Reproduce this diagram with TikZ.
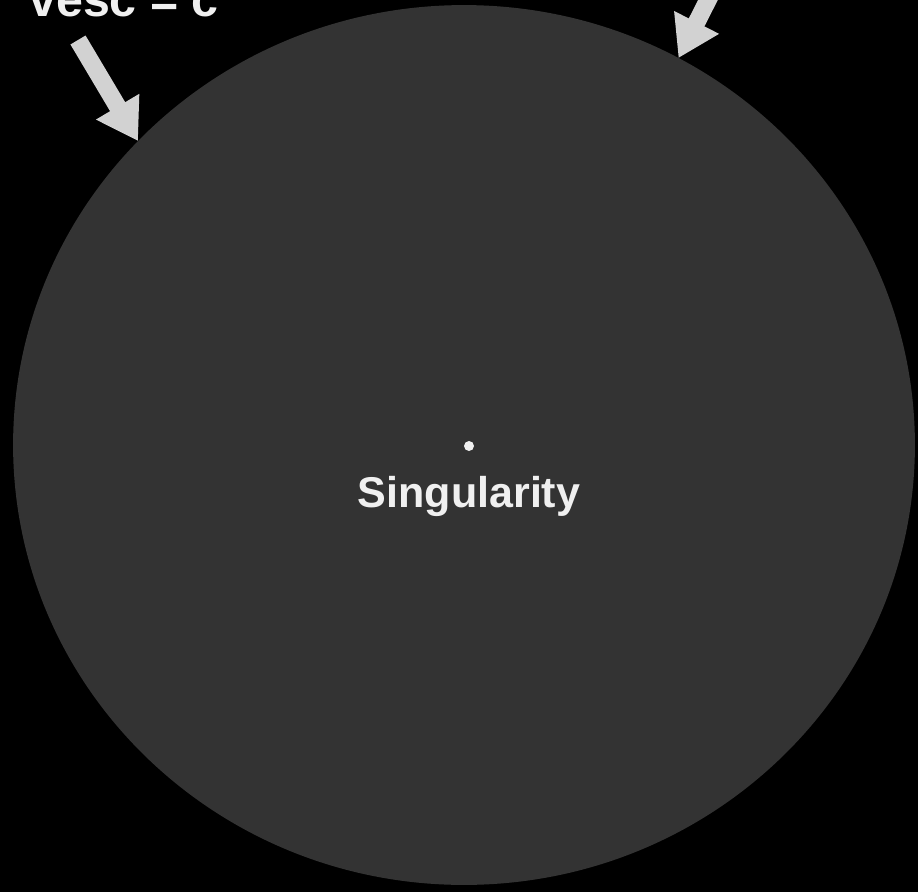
\documentclass[tikz,border=0pt]{standalone}
\usepackage{fontspec}
\setmainfont{Liberation Sans}
\usetikzlibrary{shapes.geometric, arrows.meta, positioning}
\definecolor{holegray}{HTML}{333333}
\definecolor{pointergray}{HTML}{D2D2D2}
\definecolor{labelwhite}{HTML}{F0F0F0}
\begin{document}
\begin{tikzpicture}[x=0.02cm, y=-0.02cm,
    pointer/.style={draw=pointergray, line width=10pt, -{Triangle[length=0.8cm, width=0.95cm]}},
    caption/.style={text=labelwhite, inner sep=0pt, font=\bfseries}]
    % Frame: the picture is cut off at the top
    \clip (0, 0) rectangle (918, 892);
    \fill[black] (0, 0) rectangle (918, 892);

    % Event horizon
    \node[ellipse, fill=holegray, minimum width=18.04cm, minimum height=17.6cm, inner sep=0pt, outer sep=0pt] (horizon) at (464, 445) {};

    % Singularity at the centre
    \node[circle, fill=labelwhite, inner sep=0pt, minimum size=0.2cm] (singularity) at (469, 446) {};
    \node[caption, font=\bfseries\fontsize{24.5pt}{29pt}\selectfont, below=0.5cm of singularity] (singlabel) {Singularity};

    % Escape velocity label and arrows onto the horizon
    \node[caption, font=\bfseries\fontsize{27.5pt}{32pt}\selectfont, anchor=base] (esclabel) at (124, 17) {vesc = c};
    \coordinate (escTail) at (78, 40);
    \coordinate (topTail) at (711, -6);
    \draw[pointer] (escTail) -- (horizon.137);
    \draw[pointer] (topTail) -- (horizon.61.5);
\end{tikzpicture}
\end{document}
